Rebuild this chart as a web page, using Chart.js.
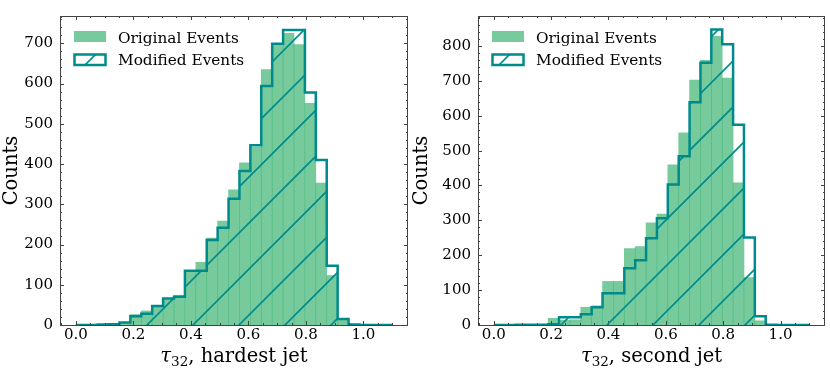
<!DOCTYPE html>
<html>
<head>
<meta charset="utf-8">
<script src="https://cdn.jsdelivr.net/npm/chart.js@4.4.0/dist/chart.umd.min.js"></script>
<style>
  body { margin: 0; background: #fff; }
  #wrap { position: relative; width: 830px; height: 371px; }
  canvas { position: absolute; top: 0; }
</style>
</head>
<body>
<div id="wrap">
  <canvas id="chartHardest" width="412" height="371" style="left:0px"></canvas>
  <canvas id="chartSecond" width="420" height="371" style="left:410px"></canvas>
</div>
<script>
// histogram bins: 29 bins from 0 to 1.1
const binCount = 29;
const binMin = 0;
const binMax = 1.1;

// counts per bin, hardest jet
const hardestOriginal = [0, 0, 1, 4, 5, 26, 35, 45, 63, 74, 133, 156, 216, 258, 336, 403, 442, 635, 700, 725, 697, 551, 353, 123, 14, 1, 0, 0, 0];
const hardestModified = [0, 0, 1, 2, 6, 22, 28, 47, 66, 70, 135, 135, 211, 242, 314, 383, 447, 594, 699, 733, 733, 578, 410, 147, 15, 1, 0, 0, 0];

// counts per bin, second jet
const secondOriginal = [0, 0, 0, 1, 2, 19, 14, 15, 51, 55, 125, 125, 219, 225, 293, 318, 459, 551, 702, 759, 828, 708, 408, 136, 12, 1, 0, 0, 0];
const secondModified = [0, 0, 1, 1, 1, 2, 22, 22, 31, 51, 91, 91, 163, 186, 249, 306, 403, 484, 639, 752, 847, 805, 574, 251, 25, 1, 0, 0, 0];

// ticks
const xTickValues = [0, 0.2, 0.4, 0.6, 0.8, 1.0];
const xTickLabels = ["0.0", "0.2", "0.4", "0.6", "0.8", "1.0"];
const hardestYTicks = [0, 100, 200, 300, 400, 500, 600, 700];
const secondYTicks = [0, 100, 200, 300, 400, 500, 600, 700, 800];

const legendLabels = ["Original Events", "Modified Events"];

const greenFill = "rgba(60, 179, 113, 0.7)";
const teal = "#008b8b";
const frameColor = "#444";
const fontFamily = "'DejaVu Serif', serif";
const hatchGap = 46;

// "/" hatch lines (x + y = phase + k * gap) inside the current clip
function strokeHatch(ctx, phase, w, h) {
  ctx.strokeStyle = teal;
  ctx.lineWidth = 1.6;
  ctx.beginPath();
  for (let s = phase - 10 * hatchGap; s < w + h + hatchGap; s += hatchGap) {
    ctx.moveTo(s, 0);
    ctx.lineTo(s - h, h);
  }
  ctx.stroke();
}

// hatch inside the modified step outline
const hatchFill = {
  id: "hatchFill",
  afterDatasetsDraw(chart) {
    const meta = chart.getDatasetMeta(1);
    const pts = meta.data;
    const base = chart.scales.y.getPixelForValue(0);
    const ctx = chart.ctx;
    ctx.save();
    ctx.beginPath();
    ctx.moveTo(pts[0].x, base);
    for (let i = 0; i < pts.length - 1; i++) {
      ctx.lineTo(pts[i].x, pts[i].y);
      ctx.lineTo(pts[i + 1].x, pts[i].y);
    }
    ctx.lineTo(pts[pts.length - 1].x, base);
    ctx.closePath();
    ctx.clip();
    strokeHatch(ctx, chart.options.plugins.hatchFill.phase, chart.width, chart.height);
    ctx.restore();
  }
};

// frame and inward ticks on all four sides
const axesFrame = {
  id: "axesFrame",
  beforeDatasetsDraw(chart) {
    const a = chart.chartArea;
    const ctx = chart.ctx;
    ctx.save();
    ctx.strokeStyle = frameColor;
    ctx.lineWidth = 1;
    ctx.strokeRect(Math.round(a.left) + 0.5, Math.round(a.top) + 0.5,
      Math.round(a.right - a.left) - 1, Math.round(a.bottom - a.top));
    ctx.restore();
  },
  afterDatasetsDraw(chart) {
    const a = chart.chartArea;
    const ctx = chart.ctx;
    const xs = chart.scales.x;
    const ys = chart.scales.y;
    ctx.save();
    ctx.strokeStyle = frameColor;
    ctx.lineWidth = 1;
    ctx.beginPath();
    for (let v = -0.05; v <= 1.151; v += 0.05) {
      const major = Math.abs(v / 0.2 - Math.round(v / 0.2)) < 1e-6;
      const len = major ? 4 : 2;
      const px = Math.round(xs.getPixelForValue(v)) + 0.5;
      ctx.moveTo(px, a.bottom);
      ctx.lineTo(px, a.bottom - len);
      ctx.moveTo(px, a.top);
      ctx.lineTo(px, a.top + len);
    }
    for (let v = 0; v <= ys.max; v += 20) {
      const len = v % 100 === 0 ? 4 : 2;
      const py = Math.round(ys.getPixelForValue(v)) + 0.5;
      ctx.moveTo(a.left, py);
      ctx.lineTo(a.left + len, py);
      ctx.moveTo(a.right, py);
      ctx.lineTo(a.right - len, py);
    }
    ctx.stroke();
    ctx.restore();
  }
};

// legend in the upper left corner of the axes
const legendInside = {
  id: "legendInside",
  afterDatasetsDraw(chart) {
    const a = chart.chartArea;
    const ctx = chart.ctx;
    const sets = chart.data.datasets;
    const x0 = a.left + 14;
    ctx.save();
    ctx.fillStyle = sets[0].backgroundColor;
    ctx.fillRect(x0, a.top + 15, 32, 11);

    ctx.fillStyle = "#fff";
    ctx.fillRect(x0 + 0.5, a.top + 38.5, 31, 10.5);
    ctx.save();
    ctx.beginPath();
    ctx.rect(x0 + 0.5, a.top + 38.5, 31, 10.5);
    ctx.clip();
    strokeHatch(ctx, chart.options.plugins.hatchFill.phase, chart.width, chart.height);
    ctx.restore();
    ctx.strokeStyle = teal;
    ctx.lineWidth = 2.5;
    ctx.strokeRect(x0 + 0.5, a.top + 38.5, 31, 10.5);

    ctx.fillStyle = "#000";
    ctx.font = "15.3px " + fontFamily;
    ctx.textBaseline = "alphabetic";
    ctx.textAlign = "left";
    ctx.fillText(sets[0].label, a.left + 58, a.top + 26.5);
    ctx.fillText(sets[1].label, a.left + 58, a.top + 48.5);
    ctx.restore();
  }
};

// x title with the tau_32 subscript
const xTitle = {
  id: "xTitle",
  afterDraw(chart) {
    const a = chart.chartArea;
    const ctx = chart.ctx;
    const rest = chart.options.plugins.xTitle.text;
    const big = "19.5px " + fontFamily;
    const small = "13.5px " + fontFamily;
    ctx.save();
    ctx.fillStyle = "#000";
    ctx.textBaseline = "alphabetic";
    ctx.textAlign = "left";
    ctx.font = "italic " + big;
    const wTau = ctx.measureText("τ").width;
    ctx.font = small;
    const wSub = ctx.measureText("32").width;
    ctx.font = big;
    const wRest = ctx.measureText(rest).width;
    let x = (a.left + a.right) / 2 - (wTau + wSub + wRest) / 2;
    const base = 362;
    ctx.font = "italic " + big;
    ctx.fillText("τ", x, base);
    x += wTau;
    ctx.font = small;
    ctx.fillText("32", x, base + 3.5);
    x += wSub;
    ctx.font = big;
    ctx.fillText(rest, x, base);
    ctx.restore();
  }
};

function histogram(canvasId, original, modified, yMax, yTicks, title, yWidth, padRight, phase) {
  const ctx = document.getElementById(canvasId).getContext("2d");
  const width = (binMax - binMin) / binCount;
  const bars = original.map((v, i) => ({ x: binMin + (i + 0.5) * width, y: v }));
  const steps = modified.map((v, i) => ({ x: binMin + i * width, y: v }));
  steps.push({ x: binMax, y: 0 });

  return new Chart(ctx, {
    type: "bar",
    data: {
      datasets: [
        {
          type: "bar",
          label: legendLabels[0],
          data: bars,
          backgroundColor: greenFill,
          borderWidth: 0,
          barPercentage: 1,
          categoryPercentage: 1,
          grouped: false,
          order: 2
        },
        {
          type: "line",
          label: legendLabels[1],
          data: steps,
          // horizontal at the bin's own height, then vertical at the next edge
          stepped: "before",
          borderColor: teal,
          borderWidth: 2.5,
          borderJoinStyle: "miter",
          fill: false,
          pointRadius: 0,
          order: 1
        }
      ]
    },
    options: {
      responsive: false,
      animation: false,
      layout: { padding: { top: 4, right: padRight, left: 0, bottom: 0 } },
      plugins: {
        legend: { display: false },
        tooltip: { enabled: false },
        xTitle: { text: title },
        hatchFill: { phase: phase }
      },
      scales: {
        x: {
          type: "linear",
          min: -0.055,
          max: 1.155,
          offset: false,
          grid: { display: false, drawTicks: false },
          border: { display: false },
          afterBuildTicks: (s) => { s.ticks = xTickValues.map((v) => ({ value: v })); },
          afterFit: (s) => { s.height = 46; },
          ticks: {
            padding: 1,
            color: "#000",
            maxRotation: 0,
            autoSkip: false,
            font: { family: fontFamily, size: 15 },
            callback: (v, i) => xTickLabels[i]
          }
        },
        y: {
          type: "linear",
          min: 0,
          max: yMax,
          grid: { display: false, drawTicks: false },
          border: { display: false },
          afterBuildTicks: (s) => { s.ticks = yTicks.map((v) => ({ value: v })); },
          afterFit: (s) => { s.width = yWidth; },
          ticks: {
            padding: 7,
            color: "#000",
            font: { family: fontFamily, size: 15 },
            callback: (v) => String(v)
          },
          title: {
            display: true,
            text: "Counts",
            color: "#000",
            padding: 0,
            font: { family: fontFamily, size: 19.5, lineHeight: 1.2 }
          }
        }
      }
    },
    plugins: [axesFrame, hatchFill, legendInside, xTitle]
  });
}

// hatch phase keeps the lines aligned across both panels (x + y = 12 mod 46 on the page)
histogram("chartHardest", hardestOriginal, hardestModified, 768, hardestYTicks, ", hardest jet", 60, 4, 12);
histogram("chartSecond", secondOriginal, secondModified, 886, secondYTicks, ", second jet", 68, 5, 16);
</script>
</body>
</html>
